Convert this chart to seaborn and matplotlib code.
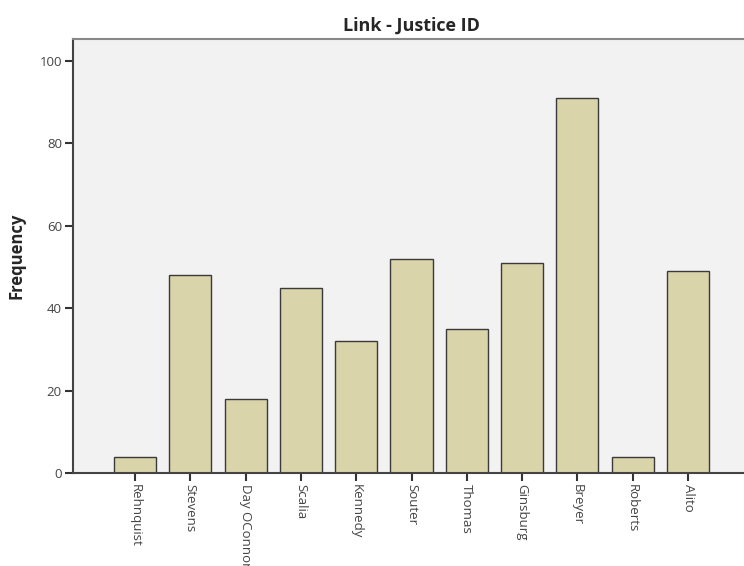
import pandas as pd
import matplotlib
matplotlib.use("Agg")
import matplotlib.pyplot as plt
import seaborn as sns

# dados
justices = ['Rehnquist', 'Stevens', 'Day OConnor', 'Scalia', 'Kennedy', 'Souter',
            'Thomas', 'Ginsburg', 'Breyer', 'Roberts', 'Alito']
frequency = [4, 48, 18, 45, 32, 52, 35, 51, 91, 4, 49]

df = pd.DataFrame({'justice': justices, 'freq': frequency})

sns.set_style('white')
plt.rcParams['font.family'] = ['Open Sans', 'DejaVu Sans']

fig = plt.figure(figsize=(7.44, 5.66), dpi=100)
ax = fig.add_axes([73 / 744, 1 - 473 / 566, 677 / 744, (473 - 39) / 566])
ax.set_facecolor('#F2F2F2')

sns.barplot(data=df, x='justice', y='freq', order=justices, color='#D9D4A9',
            saturation=1, width=0.76, edgecolor='#3A3A3A', linewidth=1.0, ax=ax)

ax.set_xlim(-1.12, 10.12 + 1.0)
ax.set_ylim(0, 105.3)
ax.set_yticks([0, 20, 40, 60, 80, 100])
ax.set_title('Link - Justice ID', fontsize=13, fontweight='bold', pad=6)
ax.set_ylabel('Frequency', fontsize=12, fontweight='bold', labelpad=10)
ax.set_xlabel('')

for s in ['left', 'bottom']:
    ax.spines[s].set_color('#444444')
    ax.spines[s].set_linewidth(1.5)
for s in ['top', 'right']:
    ax.spines[s].set_color('#888888')
    ax.spines[s].set_linewidth(1.5)
ax.tick_params(axis='both', direction='out', length=6, width=1.5, color='#333333',
               labelsize=9.5, labelcolor='#444444', pad=2)
ax.tick_params(axis='x', labelrotation=270)
ax.tick_params(left=True, bottom=True)

fig.savefig('out.png', dpi=100)
